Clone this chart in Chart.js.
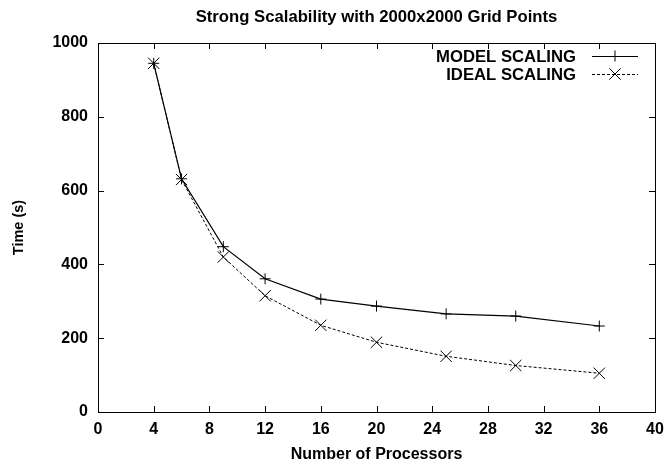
<!DOCTYPE html>
<html>
<head>
<meta charset="utf-8">
<script src="https://cdn.jsdelivr.net/npm/chart.js@4/dist/chart.umd.min.js"></script>
<style>
html,body{margin:0;padding:0;background:#fff;}
#wrap{width:670px;height:464px;position:relative;}
</style>
</head>
<body>
<div id="wrap"><canvas id="c" width="670" height="464"></canvas></div>
<script>
const chartTitle = "Strong Scalability with 2000x2000 Grid Points";
const xTitle = "Number of Processors";
const yTitle = "Time (s)";
const seriesNames = ["MODEL SCALING", "IDEAL SCALING"];
const processors = [4, 6, 9, 12, 16, 20, 25, 30, 36];
const modelTime = [945, 632, 448, 361, 306, 287, 266, 260, 233];
const idealTime = [945, 630, 420, 315, 235, 189, 151, 126, 105];
const xRange = [0, 40], xStep = 4;
const yRange = [0, 1000], yStep = 200;

const FONT = "'Liberation Sans', Arial, Helvetica, sans-serif";
const toPts = ys => processors.map((p, i) => ({x: p, y: ys[i]}));

const framePlugin = {
  id: 'frame',
  afterDraw(chart) {
    const {ctx, chartArea: a, scales} = chart;
    ctx.save();
    // title centred over the plot area
    ctx.font = "bold 16.7px " + FONT;
    ctx.fillStyle = '#000';
    ctx.textAlign = 'center';
    ctx.textBaseline = 'middle';
    ctx.fillText(chartTitle, (a.left + a.right) / 2, 17);

    ctx.strokeStyle = '#000';
    ctx.lineWidth = 1;
    ctx.strokeRect(Math.round(a.left) + 0.5, Math.round(a.top) + 0.5,
                   Math.round(a.right - a.left), Math.round(a.bottom - a.top));
    const L = 6;
    ctx.beginPath();
    scales.x.ticks.forEach(t => {
      const px = Math.round(scales.x.getPixelForValue(t.value)) + 0.5;
      ctx.moveTo(px, a.bottom); ctx.lineTo(px, a.bottom - L);
      ctx.moveTo(px, a.top); ctx.lineTo(px, a.top + L);
    });
    scales.y.ticks.forEach(t => {
      const py = Math.round(scales.y.getPixelForValue(t.value)) + 0.5;
      ctx.moveTo(a.left, py); ctx.lineTo(a.left + L, py);
      ctx.moveTo(a.right, py); ctx.lineTo(a.right - L, py);
    });
    ctx.stroke();

    // legend
    ctx.font = "bold 16.7px " + FONT;
    ctx.textAlign = 'right';
    const textRight = a.right - 79, lx0 = a.right - 63, lx1 = a.right - 17;
    const rows = [a.top + 13, a.top + 31];
    chart.data.datasets.forEach((ds, i) => {
      const y = rows[i];
      ctx.fillText(ds.label, textRight, y + 1);
      ctx.setLineDash(ds.borderDash || []);
      ctx.lineWidth = ds.borderWidth;
      ctx.beginPath(); ctx.moveTo(lx0, y + 0.5); ctx.lineTo(lx1, y + 0.5); ctx.stroke();
      ctx.setLineDash([]);
      ctx.lineWidth = 1;
      const cx = (lx0 + lx1) / 2, r = ds.pointRadius;
      ctx.beginPath();
      if (ds.pointStyle === 'cross') {
        ctx.moveTo(cx - r, y + 0.5); ctx.lineTo(cx + r, y + 0.5);
        ctx.moveTo(cx, y - r); ctx.lineTo(cx, y + r);
      } else {
        const d = r * Math.SQRT1_2;
        ctx.moveTo(cx - d, y - d); ctx.lineTo(cx + d, y + d);
        ctx.moveTo(cx - d, y + d); ctx.lineTo(cx + d, y - d);
      }
      ctx.stroke();
    });
    ctx.restore();
  }
};

new Chart(document.getElementById('c'), {
  type: 'line',
  data: {
    datasets: [
      {label: seriesNames[0], data: toPts(modelTime), borderColor: '#000', backgroundColor: '#000',
       borderWidth: 1.2, pointStyle: 'cross', pointRadius: 5.5, pointBorderWidth: 1,
       pointBorderColor: '#000', fill: false, tension: 0},
      {label: seriesNames[1], data: toPts(idealTime), borderColor: '#000', backgroundColor: '#000',
       borderWidth: 1, borderDash: [3, 2], pointStyle: 'crossRot', pointRadius: 8, pointBorderWidth: 1,
       pointBorderColor: '#000', fill: false, tension: 0}
    ]
  },
  options: {
    responsive: false,
    animation: false,
    layout: {padding: {left: 0, right: 15, top: 43, bottom: 0}},
    plugins: {
      legend: {display: false},
      tooltip: {enabled: false},
      title: {display: false}
    },
    scales: {
      x: {
        type: 'linear', min: xRange[0], max: xRange[1],
        ticks: {stepSize: xStep, color: '#000', font: {family: FONT, size: 16, weight: 'bold'}, padding: 8, maxRotation: 0,
                callback: v => String(v)},
        grid: {drawOnChartArea: false, drawTicks: false},
        border: {display: false},
        title: {display: true, text: xTitle, color: '#000', font: {family: FONT, size: 16, weight: 'bold'}, padding: {top: 0, bottom: 0}},
        afterFit(s) { s.height = 52; s.paddingLeft = 0; s.paddingRight = 0; }
      },
      y: {
        type: 'linear', min: yRange[0], max: yRange[1],
        ticks: {stepSize: yStep, color: '#000', font: {family: FONT, size: 16, weight: 'bold'}, padding: 10,
                callback: v => String(v)},
        grid: {drawOnChartArea: false, drawTicks: false},
        border: {display: false},
        title: {display: true, text: yTitle, color: '#000', font: {family: FONT, size: 14.5, weight: 'bold'}, padding: {top: 10, bottom: 0}},
        afterFit(s) { s.width = 98; s.paddingTop = 0; s.paddingBottom = 0; }
      }
    }
  },
  plugins: [framePlugin]
});
</script>
</body>
</html>
